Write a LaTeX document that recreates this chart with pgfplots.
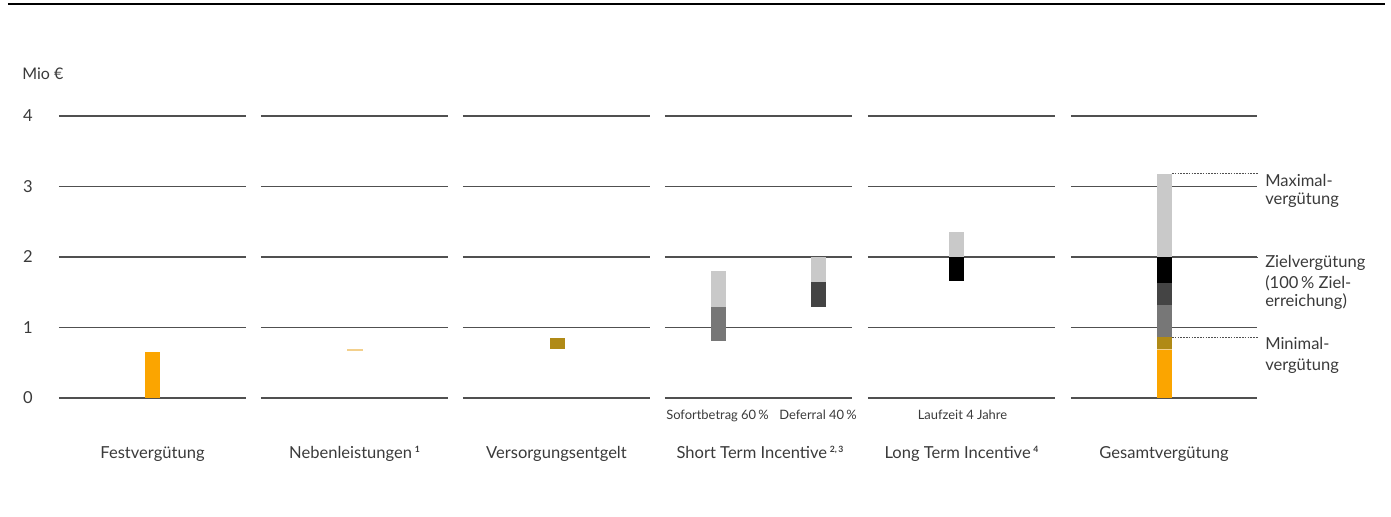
\documentclass[border=0pt]{standalone}
\usepackage{pgfplots}
\pgfplotsset{compat=1.18}
\usepackage{fontspec}
\setmainfont{Lato}

\definecolor{txt}{HTML}{3A3A3A}
\definecolor{gridc}{HTML}{505050}
\definecolor{fest}{HTML}{FBA500}
\definecolor{neben}{HTML}{F3D08C}
\definecolor{vers}{HTML}{B08A16}
\definecolor{lgrey}{HTML}{C9C9C9}
\definecolor{mgrey}{HTML}{777777}
\definecolor{dgrey}{HTML}{444444}

% one bar segment: colour, x from, x to, y from, y to
\newcommand{\seg}[5]{\addplot[draw=none, fill=#1] coordinates {(#2,#4) (#3,#4) (#3,#5) (#2,#5)} -- cycle;}
% the five gridlines of one panel
\newcommand{\panel}[2]{\draw[gridc, line width=0.9pt]
  (#1,0) -- (#2,0) (#1,1) -- (#2,1) (#1,2) -- (#2,2) (#1,3) -- (#2,3) (#1,4) -- (#2,4);}
% footnote marks
\newcommand{\fn}[1]{\,\raisebox{4.2pt}{\fontsize{6.5}{7}\selectfont\bfseries #1}}

\begin{document}
\begin{tikzpicture}
\useasboundingbox (0,0) rectangle (1043.25pt,387.75pt);
\begin{axis}[
  at={(0,0)}, anchor=south west,
  width=1043.25pt, height=387.75pt, scale only axis,
  xmin=0, xmax=1391, ymin=-1.6879, ymax=5.6454,
  axis lines=none, clip=false,
]
% top rule
\draw[black, line width=2.2pt] (8,5.589) -- (1385,5.589);

\panel{59}{246}
\panel{261}{448}
\panel{463}{650}
\panel{665}{852}
\panel{868}{1055}
\panel{1071}{1257}

% y axis
\node[text=txt, inner sep=0pt, anchor=base west, font=\fontsize{12}{14}\selectfont] at (22,4.511) {Mio €};
\pgfplotsinvokeforeach{0,...,4}{
  \node[text=txt, inner sep=0pt, anchor=center, font=\fontsize{12.4}{14}\selectfont] at (28,#1) {#1};
}

% Festvergütung
\seg{fest}{145}{160}{0}{0.657}
% Nebenleistungen
\seg{neben}{347}{363}{0.662}{0.688}
% Versorgungsentgelt
\seg{vers}{550}{565}{0.690}{0.847}
% Short Term Incentive: Sofortbetrag, Deferral
\seg{mgrey}{711}{726}{0.813}{1.295}
\seg{lgrey}{711}{726}{1.295}{1.806}
\seg{dgrey}{811}{826}{1.295}{1.640}
\seg{lgrey}{811}{826}{1.640}{2.000}
% Long Term Incentive
\seg{black}{949}{964}{1.660}{2.000}
\seg{lgrey}{949}{964}{2.000}{2.360}
% Gesamtvergütung
\seg{fest}{1157}{1172}{0}{0.675}
\seg{neben}{1157}{1172}{0.675}{0.697}
\seg{vers}{1157}{1172}{0.697}{0.860}
\seg{mgrey}{1157}{1172}{0.860}{1.320}
\seg{dgrey}{1157}{1172}{1.320}{1.630}
\seg{black}{1157}{1172}{1.630}{2.000}
\seg{lgrey}{1157}{1172}{2.000}{3.180}

% reference lines
\draw[gridc, dash pattern=on 1.2pt off 0.9pt, line width=0.6pt] (1172,3.18) -- (1258,3.18)
  (1172,2.0) -- (1258,2.0) (1172,0.86) -- (1258,0.86);

\tikzset{lab/.style={text=txt, inner sep=0pt, anchor=base west, font=\fontsize{12.4}{14}\selectfont},
  sub/.style={text=txt, inner sep=0pt, anchor=base, font=\fontsize{9.7}{11}\selectfont},
  cat/.style={text=txt, inner sep=0pt, anchor=base, font=\fontsize{12.4}{14}\selectfont}}
\node[lab] at (1265,2.997) {Maximal-};
\node[lab] at (1265,2.738) {vergütung};
\node[lab] at (1265,1.844) {Zielvergütung};
\node[lab] at (1265,1.560) {(100\,\% Ziel-};
\node[lab] at (1265,1.295) {erreichung)};
\node[lab] at (1265,0.681) {Minimal-};
\node[lab] at (1265,0.397) {vergütung};

% sub labels
\node[sub] at (717.5,-0.302) {Sofortbetrag 60\,\%};
\node[sub] at (818,-0.302) {Deferral 40\,\%};
\node[sub] at (962.5,-0.302) {Laufzeit 4 Jahre};

% category labels
\node[cat] at (152.5,-0.855) {Festvergütung};
\node[cat] at (354.5,-0.855) {Nebenleistungen\fn{1}};
\node[cat] at (556.5,-0.855) {Versorgungsentgelt};
\node[cat] at (760,-0.855) {Short Term Incentive\fn{2,\,3}};
\node[cat] at (961.5,-0.855) {Long Term Incentive\fn{4}};
\node[cat] at (1164,-0.855) {Gesamtvergütung};
\end{axis}
\end{tikzpicture}
\end{document}
